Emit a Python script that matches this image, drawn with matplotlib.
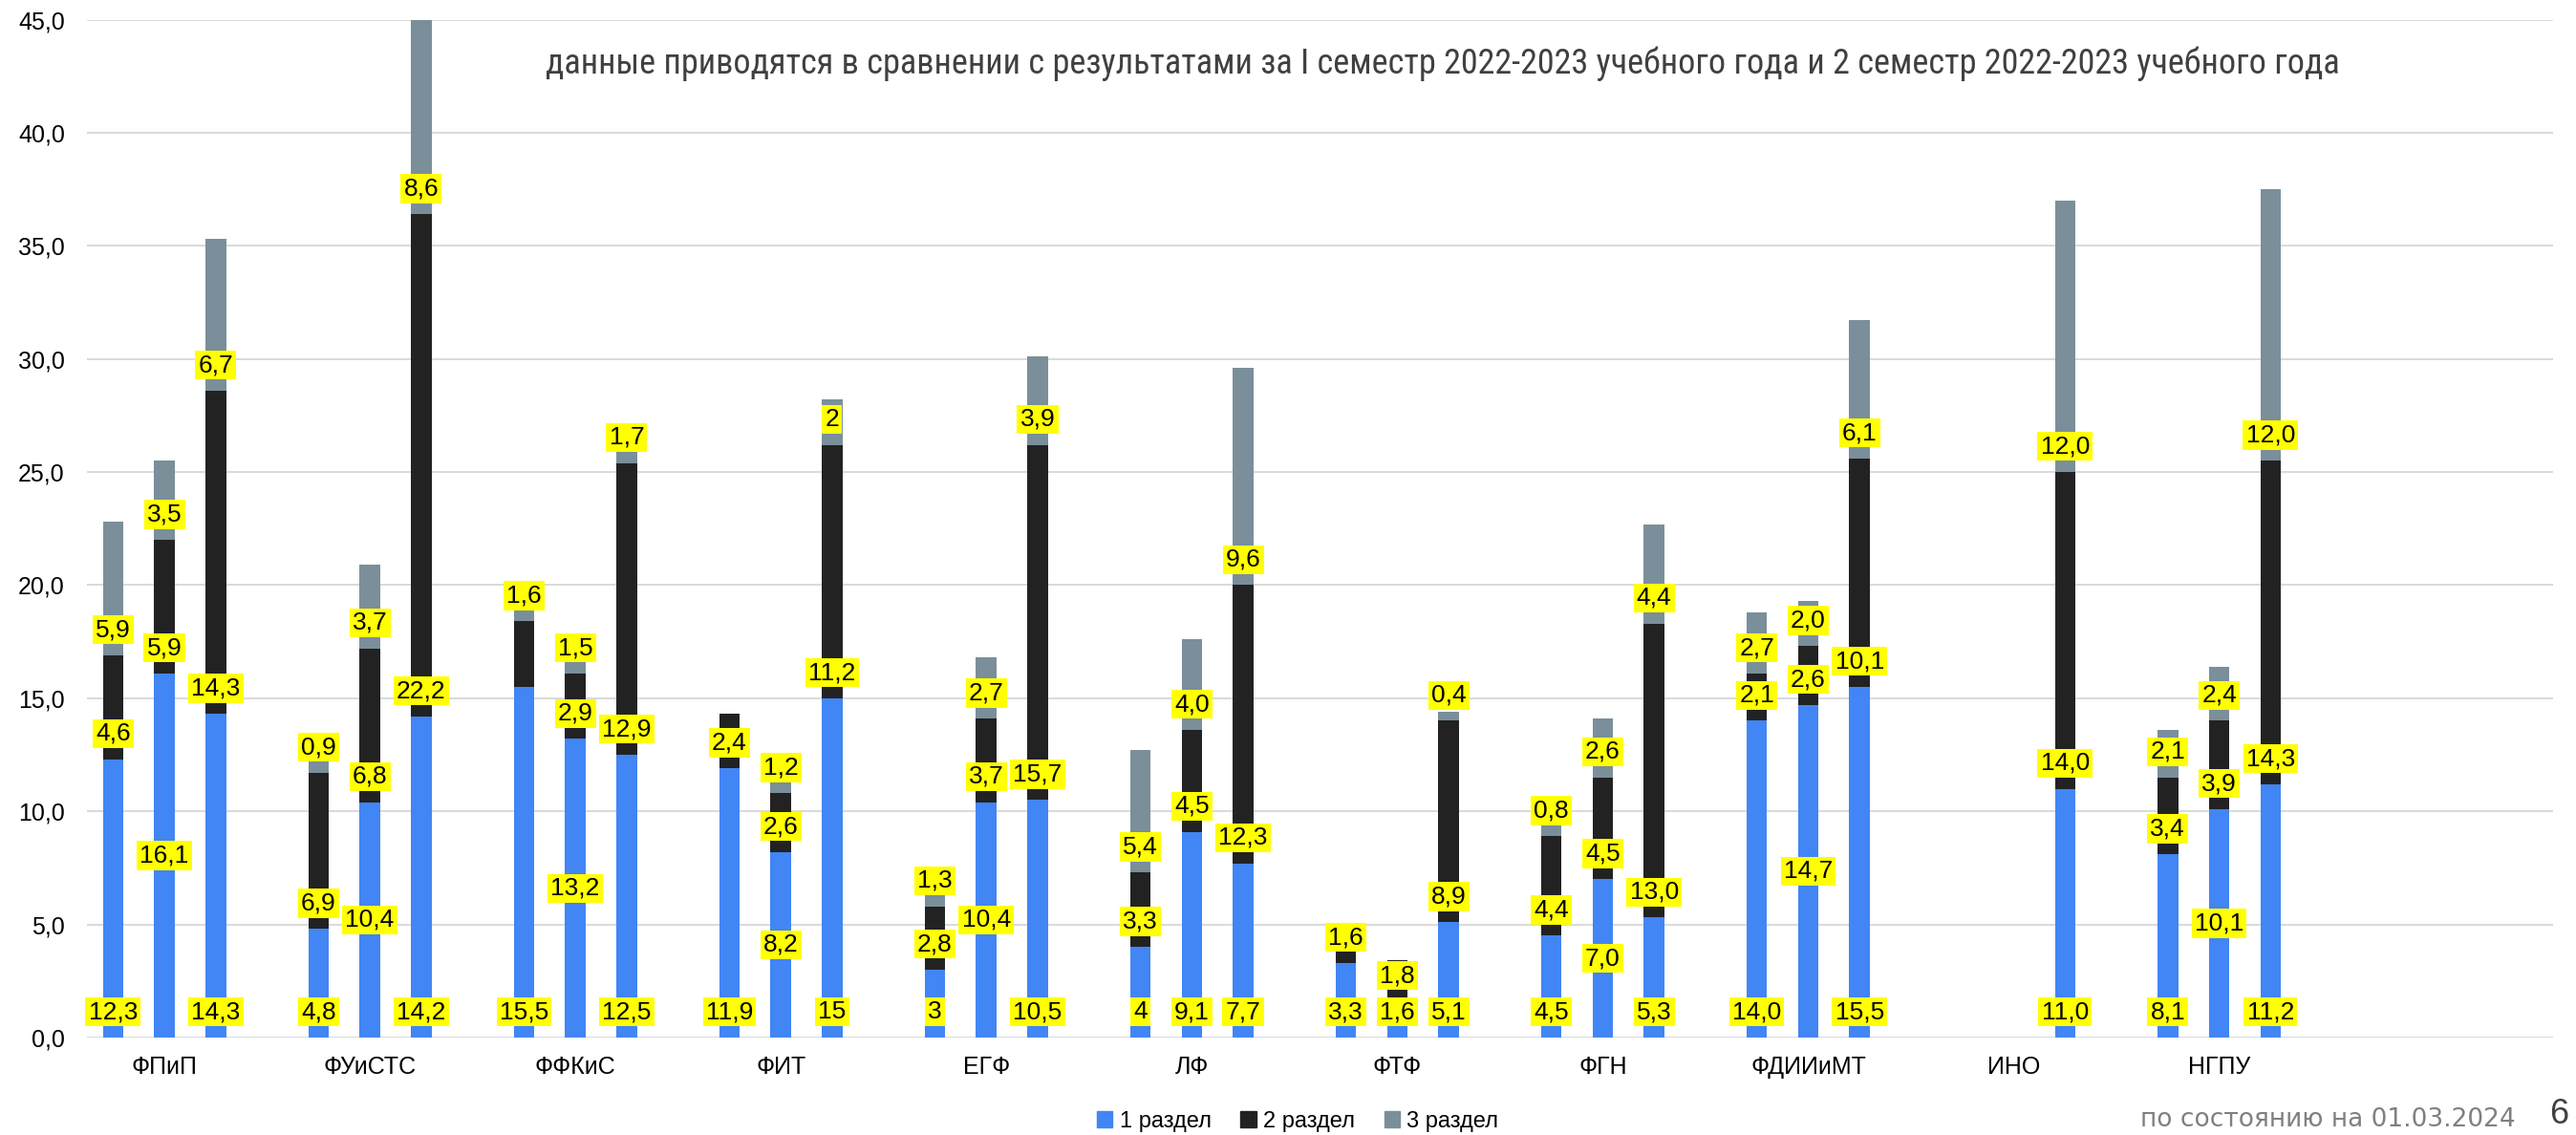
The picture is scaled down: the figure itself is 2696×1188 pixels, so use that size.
import matplotlib
matplotlib.use('Agg')
import matplotlib.pyplot as plt
from matplotlib import font_manager
from matplotlib.patches import Patch

# faculties, 3 bars each (two earlier semesters + current)
groups = ['ФПиП', 'ФУиСТС', 'ФФКиС', 'ФИТ', 'ЕГФ', 'ЛФ', 'ФТФ', 'ФГН', 'ФДИИиМТ', 'ИНО', 'НГПУ']

part1 = [12.3, 16.1, 14.3, 4.8, 10.4, 14.2, 15.5, 13.2, 12.5, 11.9, 8.2, 15.0,
         3.0, 10.4, 10.5, 4.0, 9.1, 7.7, 3.3, 1.6, 5.1, 4.5, 7.0, 5.3,
         14.0, 14.7, 15.5, 0, 0, 11.0, 8.1, 10.1, 11.2]
part2 = [4.6, 5.9, 14.3, 6.9, 6.8, 22.2, 2.9, 2.9, 12.9, 2.4, 2.6, 11.2,
         2.8, 3.7, 15.7, 3.3, 4.5, 12.3, 1.6, 1.8, 8.9, 4.4, 4.5, 13.0,
         2.1, 2.6, 10.1, 0, 0, 14.0, 3.4, 3.9, 14.3]
part3 = [5.9, 3.5, 6.7, 0.9, 3.7, 8.6, 1.6, 1.5, 1.7, 0, 1.2, 2.0,
         1.3, 2.7, 3.9, 5.4, 4.0, 9.6, 0, 0, 0.4, 0.8, 2.6, 4.4,
         2.7, 2.0, 6.1, 0, 0, 12.0, 2.1, 2.4, 12.0]

lab1 = ['12,3', '16,1', '14,3', '4,8', '10,4', '14,2', '15,5', '13,2', '12,5', '11,9', '8,2', '15',
        '3', '10,4', '10,5', '4', '9,1', '7,7', '3,3', '1,6', '5,1', '4,5', '7,0', '5,3',
        '14,0', '14,7', '15,5', '', '', '11,0', '8,1', '10,1', '11,2']
lab2 = ['4,6', '5,9', '14,3', '6,9', '6,8', '22,2', '', '2,9', '12,9', '2,4', '2,6', '11,2',
        '2,8', '3,7', '15,7', '3,3', '4,5', '12,3', '1,6', '1,8', '8,9', '4,4', '4,5', '13,0',
        '2,1', '2,6', '10,1', '', '', '14,0', '3,4', '3,9', '14,3']
lab3 = ['5,9', '3,5', '6,7', '0,9', '3,7', '8,6', '1,6', '1,5', '1,7', '', '1,2', '2',
        '1,3', '2,7', '3,9', '5,4', '4,0', '9,6', '', '', '0,4', '0,8', '2,6', '4,4',
        '2,7', '2,0', '6,1', '', '', '12,0', '2,1', '2,4', '12,0']

# blue labels drawn in the middle of the segment (others at the base)
mid_label = [False, True, False] * 11
mid_label[16] = False
mid_label[19] = False

series = ['1 раздел', '2 раздел', '3 раздел']
colors = ['#4285F4', '#222222', '#7A8F9A']

# slot positions: 3 bars + 1 gap per group
xs = [4 * (i // 3) + (i % 3) for i in range(len(part1))]

fig = plt.figure(figsize=(26.96, 11.88), dpi=100)
ax = fig.add_axes([0.0339, 0.0859, 0.9572, 0.8968])

bottom2 = part1
bottom3 = [a + b for a, b in zip(part1, part2)]
ax.bar(xs, part1, width=0.4, color=colors[0], zorder=2)
ax.bar(xs, part2, width=0.4, bottom=bottom2, color=colors[1], zorder=2)
ax.bar(xs, part3, width=0.4, bottom=bottom3, color=colors[2], zorder=2)

box = dict(boxstyle='square,pad=0.12', fc='#FFFF00', ec='none')
lab_font = dict(fontsize=19, family='Liberation Sans', ha='center', va='center', zorder=5)
for i, x in enumerate(xs):
    if lab1[i]:
        y = part1[i] / 2 if mid_label[i] else 1.13
        ax.text(x, y, lab1[i], bbox=box, **lab_font)
    if lab2[i]:
        ax.text(x, bottom2[i] + 1.13, lab2[i], bbox=box, **lab_font)
    if lab3[i]:
        ax.text(x, bottom3[i] + 1.13, lab3[i], bbox=box, **lab_font)

ax.set_xlim(-0.5, 47.5)
ax.set_ylim(0, 45)
ax.set_yticks(range(0, 46, 5))
ax.set_yticklabels(['%d,0' % v for v in range(0, 46, 5)], fontsize=18, family='Liberation Sans')
ax.set_xticks([4 * g + 1 for g in range(len(groups))])
ax.set_xticklabels(groups, fontsize=18, family='Liberation Sans')
ax.tick_params(length=0)
ax.tick_params(axis='y', pad=17)
ax.tick_params(axis='x', pad=14)
ax.grid(axis='y', color='#D9D9D9', lw=1.4, zorder=0)
for s in ax.spines.values():
    s.set_visible(False)

# title in a narrow face if one exists, then fitted to the reference width
names = {f.name for f in font_manager.fontManager.ttflist}
title_font = 'Roboto'
for cand in ['Liberation Sans Narrow', 'DejaVu Sans Condensed', 'Roboto Condensed']:
    if cand in names:
        title_font = cand
        break
title = fig.text(571 / 2696, 1 - 67 / 1188,
                 'данные приводятся в сравнении с результатами за I семестр 2022-2023 учебного года '
                 'и 2 семестр 2022-2023 учебного года',
                 fontsize=27, family=title_font, color='#404040', ha='left', va='center')
renderer = fig.canvas.get_renderer()
w = title.get_window_extent(renderer).width
title.set_fontsize(27 * 1883 / w)

handles = [Patch(color=c, label=n) for c, n in zip(colors, series)]
fig.legend(handles=handles, loc='center', bbox_to_anchor=(1358 / 2696, 14 / 1188),
           ncol=3, frameon=False, handlelength=0.7, handleheight=0.7,
           handletextpad=0.3, columnspacing=1.3, prop={'family': 'Liberation Sans', 'size': 17})

fig.text(2240 / 2696, 16 / 1188, 'по состоянию на 01.03.2024', fontsize=19,
         family='DejaVu Sans', color='#808080', ha='left', va='center')
fig.text(2668 / 2696, 22 / 1188, '6', fontsize=26, family='Liberation Sans',
         color='#404040', ha='left', va='center')

fig.savefig('out.png', dpi=100)
